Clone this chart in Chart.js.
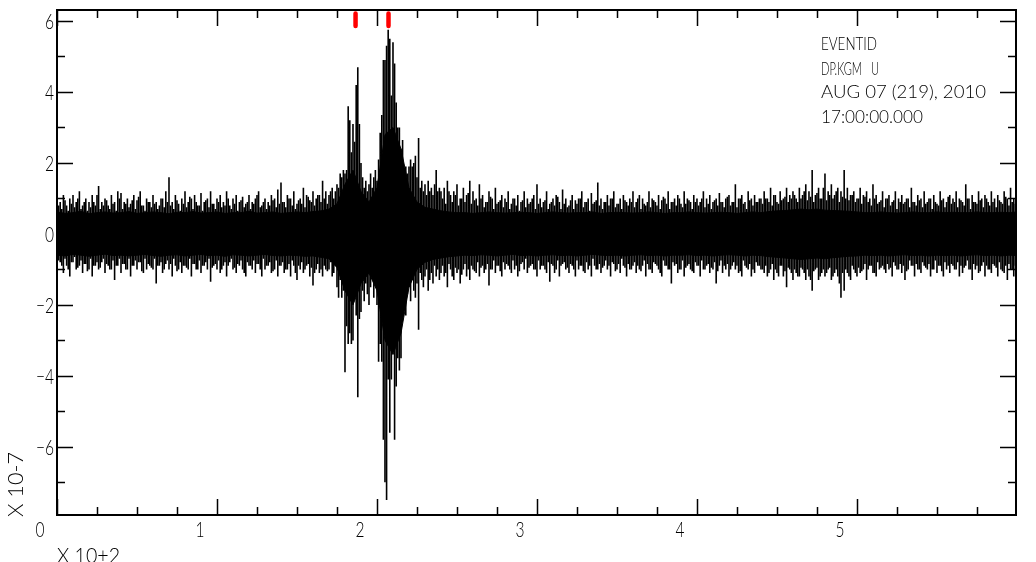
<!DOCTYPE html>
<html>
<head>
<meta charset="utf-8">
<script src="https://cdn.jsdelivr.net/npm/chart.js@4.4.1/dist/chart.umd.min.js"></script>
<style>
  html, body { margin: 0; padding: 0; background: #fff; }
  #wrap { width: 1036px; height: 562px; }
</style>
</head>
<body>
<div id="wrap"><canvas id="chart" width="1036" height="562"></canvas></div>
<script>
/* ---- trace (x in units of 10+2 s, y in units of 10-7) ---- */
const sampleStep = 0.02;
// swing reached around t = k * sampleStep
const peakHi = [
  1.2, 0.9, 1.1, 0.8, 1.0, 1.1, 0.9, 1.2, 0.8, 1.0,
  0.9, 1.1, 0.8, 1.35, 0.9, 1.0, 0.8, 1.1, 0.9, 1.2,
  1.15, 0.9, 1.0, 0.85, 1.1, 0.95, 1.2, 0.8, 1.0, 0.9,
  1.1, 0.9, 0.8, 1.0, 1.2, 1.6, 0.9, 1.1, 0.85, 1.0,
  1.2, 0.9, 1.0, 1.1, 0.8, 1.15, 0.9, 1.0, 1.2, 0.85,
  1.0, 1.1, 0.9, 1.2, 0.8, 1.0, 1.1, 0.9, 1.05, 0.85,
  1.1, 0.9, 1.0, 1.2, 0.8, 1.0, 0.9, 1.1, 1.0, 1.25,
  1.45, 0.9, 1.1, 1.0, 1.2, 0.85, 1.0, 1.3, 1.1, 0.95,
  1.2, 1.0, 1.1, 1.5, 1.2, 1.1, 1.3, 1.2, 1.3, 1.6,
  1.7, 3.6, 2.3, 2.6, 4.7, 2.0, 1.3, 1.2, 1.7, 1.6,
  1.5, 2.85, 4.9, 5.3, 5.5, 5.4, 3.7, 3.0, 2.65, 1.9,
  1.9, 1.9, 2.2, 2.7, 1.5, 1.4, 1.5, 1.3, 1.4, 1.2,
  1.2, 1.3, 1.5, 1.1, 1.2, 1.4, 1.0, 1.3, 1.1, 1.5,
  1.2, 1.0, 1.4, 1.1, 0.9, 1.2, 1.0, 1.3, 0.9, 1.1,
  1.0, 1.2, 0.85, 1.0, 1.1, 0.9, 1.2, 1.0, 0.9, 1.1,
  1.4, 1.0, 0.9, 1.2, 0.85, 1.0, 1.1, 0.9, 1.25, 1.0,
  0.8, 1.1, 0.95, 1.0, 1.2, 0.9, 1.0, 1.15, 0.9, 1.45,
  1.0, 0.9, 1.1, 1.0, 1.2, 0.85, 1.0, 1.1, 0.9, 1.0,
  1.2, 0.9, 1.1, 1.0, 0.8, 1.2, 1.0, 0.9, 1.1, 0.95,
  1.0, 1.2, 0.9, 1.0, 1.1, 0.85, 1.2, 1.0, 0.9, 1.1,
  1.0, 0.9, 1.2, 1.0, 1.1, 0.9, 1.0, 1.15, 0.9, 1.0,
  1.1, 0.9, 1.4, 1.0, 1.1, 0.9, 1.2, 1.0, 1.1, 0.9,
  1.0, 1.2, 1.0, 1.3, 1.1, 0.9, 1.2, 1.0, 1.3, 1.1,
  1.2, 1.0, 1.3, 1.1, 1.4, 1.2, 1.8, 1.1, 1.3, 1.0,
  1.7, 1.2, 1.4, 1.1, 1.3, 1.2, 1.8, 1.3, 1.1, 1.2,
  1.0, 1.3, 1.1, 1.2, 1.0, 1.4, 1.1, 0.9, 1.2, 1.0,
  1.1, 0.9, 1.2, 1.0, 1.1, 0.9, 1.0, 1.3, 0.9, 1.1,
  1.0, 1.2, 0.9, 1.0, 1.1, 0.85, 1.2, 1.0, 0.9, 1.1,
  1.0, 1.2, 1.0, 0.9, 1.4, 1.0, 1.1, 0.9, 1.2, 1.0,
  1.1, 0.9, 1.2, 1.0, 1.1, 0.9, 1.2, 1.0, 1.3, 1.0,
  1.1
];
const peakLo = [
  -1.0, -0.8, -1.1, -0.9, -1.2, -0.8, -1.0, -0.9, -1.1, -0.85,
  -1.0, -1.2, -0.9, -1.0, -0.8, -1.1, -0.9, -1.0, -1.3, -0.9,
  -1.1, -0.85, -1.0, -1.2, -0.9, -1.0, -0.8, -1.1, -1.0, -0.9,
  -1.0, -1.4, -0.9, -1.1, -0.85, -1.0, -1.2, -0.9, -1.0, -1.1,
  -0.9, -1.0, -1.2, -0.85, -1.0, -1.1, -0.9, -1.0, -1.35, -0.9,
  -1.0, -1.1, -0.9, -1.2, -0.8, -1.0, -1.1, -0.9, -1.0, -1.2,
  -0.9, -1.0, -1.1, -0.85, -1.2, -1.0, -0.9, -1.1, -1.0, -1.2,
  -0.9, -1.1, -1.0, -1.2, -0.9, -1.3, -1.0, -1.1, -0.9, -1.2,
  -1.45, -1.0, -1.1, -1.2, -1.0, -1.0, -1.2, -0.9, -1.8, -1.8,
  -3.9, -3.1, -3.1, -1.4, -4.6, -2.2, -1.9, -1.7, -1.5, -1.8,
  -2.0, -3.1, -5.8, -7.5, -5.6, -2.7, -4.3, -3.85, -2.35, -2.3,
  -1.5, -1.3, -1.8, -2.7, -1.3, -1.2, -1.6, -1.1, -0.9, -1.0,
  -1.1, -1.2, -1.5, -1.0, -1.3, -1.1, -1.4, -1.0, -1.2, -1.3,
  -1.0, -1.1, -1.2, -0.9, -1.0, -1.45, -1.0, -1.1, -0.9, -1.2,
  -1.0, -0.9, -1.1, -1.0, -1.2, -0.85, -1.0, -1.1, -0.9, -1.0,
  -1.2, -1.0, -0.9, -1.1, -1.35, -0.9, -1.0, -1.2, -0.85, -1.0,
  -1.1, -0.9, -1.2, -1.0, -0.9, -1.1, -1.0, -1.2, -0.9, -1.0,
  -1.1, -0.9, -1.0, -1.2, -0.85, -1.0, -1.1, -0.9, -1.2, -1.0,
  -0.9, -1.1, -1.0, -0.9, -1.2, -1.0, -1.1, -0.85, -1.0, -1.2,
  -0.9, -1.0, -1.4, -0.9, -1.1, -1.0, -1.2, -0.9, -1.0, -1.1,
  -0.9, -1.2, -1.0, -0.9, -1.1, -1.0, -1.4, -0.9, -1.1, -1.0,
  -1.2, -0.9, -1.0, -1.1, -1.2, -0.9, -1.0, -1.2, -1.1, -0.9,
  -1.0, -1.1, -1.2, -1.0, -1.3, -1.1, -0.9, -1.2, -1.5, -1.0,
  -1.3, -1.1, -1.2, -1.0, -1.3, -1.2, -1.6, -1.0, -1.3, -1.1,
  -1.2, -1.0, -1.3, -1.1, -1.2, -1.8, -1.6, -1.1, -1.3, -1.0,
  -1.2, -1.1, -1.0, -1.3, -0.9, -1.1, -1.2, -1.0, -0.9, -1.1,
  -1.0, -1.2, -0.9, -1.0, -1.1, -1.3, -1.0, -0.9, -1.2, -1.0,
  -1.1, -0.9, -1.0, -1.2, -1.0, -1.1, -0.9, -1.2, -1.0, -1.1,
  -0.9, -1.0, -1.2, -1.1, -0.9, -1.0, -1.3, -1.0, -1.1, -0.9,
  -1.2, -1.0, -1.1, -0.9, -1.2, -1.0, -1.1, -1.3, -1.0, -1.2,
  -1.1
];

// swing reached half a step later, t = midStart + i * sampleStep
const midStart = 0.01;
const midHi = [
  0.8, 0.7, 0.95, 0.65, 0.85, 0.75, 1.0, 0.7, 0.9, 0.65,
  0.75, 0.9, 1.1, 0.7, 0.8, 0.95, 0.7, 0.85, 0.65, 1.0,
  0.7, 0.85, 0.75, 0.95, 0.7, 1.05, 0.8, 0.65, 0.9, 0.75,
  0.85, 0.7, 1.0, 0.75, 0.9, 0.8, 0.7, 0.95, 0.65, 0.85,
  0.75, 1.05, 0.7, 0.9, 0.8, 0.65, 0.95, 0.75, 0.85, 0.7,
  0.9, 0.75, 0.8, 1.0, 0.7, 0.85, 0.65, 0.95, 0.75, 0.9,
  0.7, 0.85, 1.1, 0.75, 0.9, 0.7, 0.8, 0.95, 0.75, 0.85,
  0.9, 0.75, 1.0, 0.8, 0.7, 0.95, 0.85, 0.75, 1.05, 0.9,
  0.8, 1.1, 0.9, 1.0, 0.85, 1.2, 1.0, 1.4, 1.7, 1.8,
  1.8, 3.2, 3.1, 4.2, 3.1, 1.6, 1.5, 1.4, 1.3, 1.8,
  2.1, 3.35, 4.9, 5.75, 3.9, 4.8, 3.0, 2.4, 1.8, 1.7,
  2.1, 2.0, 1.6, 1.3, 1.2, 1.1, 1.2, 1.1, 1.8, 1.3,
  1.0, 0.85, 1.2, 0.9, 1.1, 0.8, 1.0, 0.9, 1.15, 0.85,
  0.95, 0.8, 1.0, 0.75, 0.9, 1.05, 0.7, 0.85, 0.95, 0.75,
  0.9, 0.7, 1.0, 0.8, 0.65, 0.95, 0.75, 0.85, 1.0, 0.7,
  0.85, 0.75, 0.95, 0.7, 0.9, 0.8, 1.05, 0.7, 0.85, 0.75,
  0.95, 0.7, 0.85, 1.0, 0.75, 0.9, 0.65, 0.85, 0.95, 0.8,
  0.7, 0.9, 0.8, 1.0, 0.75, 0.85, 0.7, 0.95, 0.8, 0.9,
  0.75, 1.0, 0.7, 0.85, 0.9, 0.75, 0.95, 0.8, 0.7, 1.05,
  0.85, 0.7, 0.9, 0.8, 1.0, 0.75, 0.85, 0.95, 0.7, 0.9,
  0.8, 1.0, 0.75, 0.85, 0.7, 0.95, 0.8, 0.9, 0.75, 1.05,
  0.8, 0.9, 0.75, 1.0, 0.85, 0.7, 0.95, 0.8, 0.9, 1.0,
  0.85, 1.0, 0.9, 0.8, 1.1, 0.85, 0.95, 1.05, 0.9, 1.0,
  1.1, 0.9, 1.0, 1.2, 0.95, 1.05, 0.9, 1.15, 1.0, 1.3,
  0.95, 1.1, 1.0, 1.2, 0.9, 1.05, 1.0, 0.95, 1.1, 0.9,
  1.0, 0.85, 1.05, 0.9, 0.8, 1.0, 0.85, 0.95, 0.75, 1.0,
  0.8, 0.95, 0.7, 0.9, 0.85, 1.0, 0.75, 0.9, 0.8, 0.95,
  0.75, 0.85, 1.0, 0.7, 0.9, 0.8, 0.95, 0.75, 1.05, 0.85,
  0.9, 0.75, 0.95, 0.8, 1.0, 0.7, 0.9, 0.85, 0.95, 0.75,
  1.0, 0.8, 0.9, 0.75, 0.95, 0.85, 1.05, 0.8, 0.9, 0.85
];
const midLo = [
  -0.75, -0.9, -0.7, -1.0, -0.8, -0.65, -0.95, -0.75, -0.85, -1.05,
  -0.7, -0.9, -0.8, -0.95, -0.7, -0.85, -1.0, -0.75, -0.9, -0.7,
  -0.85, -1.0, -0.7, -0.9, -0.75, -0.8, -1.05, -0.7, -0.85, -0.95,
  -0.7, -0.9, -0.8, -1.0, -0.75, -0.85, -0.7, -1.05, -0.8, -0.9,
  -0.95, -0.7, -0.85, -1.0, -0.75, -0.9, -0.8, -0.7, -0.95, -0.85,
  -0.75, -1.0, -0.8, -0.9, -0.7, -0.95, -0.85, -0.75, -1.1, -0.8,
  -0.9, -0.75, -0.85, -1.0, -0.7, -0.9, -0.8, -1.05, -0.75, -0.9,
  -0.8, -1.0, -0.85, -0.75, -1.1, -0.9, -0.8, -1.0, -0.85, -0.95,
  -1.1, -0.85, -1.0, -0.9, -1.05, -0.8, -1.1, -1.5, -1.3, -1.6,
  -2.6, -2.8, -3.0, -2.3, -2.4, -1.6, -1.4, -2.0, -1.2, -1.4,
  -3.6, -3.6, -7.0, -4.1, -4.1, -5.8, -3.5, -3.5, -2.0, -1.7,
  -1.9, -1.6, -1.4, -1.1, -1.5, -1.0, -1.3, -1.4, -1.2, -1.3,
  -0.9, -1.1, -0.85, -1.2, -0.95, -1.0, -1.15, -0.85, -1.0, -0.9,
  -1.05, -0.8, -0.95, -1.1, -0.85, -1.0, -0.75, -0.9, -1.05, -0.8,
  -0.85, -1.0, -0.75, -0.9, -1.05, -0.8, -0.7, -0.95, -0.85, -1.0,
  -0.75, -0.9, -1.0, -0.8, -0.85, -1.1, -0.75, -0.9, -0.8, -0.95,
  -0.85, -1.0, -0.75, -0.9, -1.05, -0.8, -0.9, -0.7, -1.0, -0.85,
  -0.95, -0.75, -0.9, -0.8, -1.05, -0.85, -0.7, -0.95, -0.85, -1.0,
  -0.8, -0.9, -1.05, -0.75, -0.85, -1.0, -0.8, -0.9, -1.1, -0.75,
  -0.9, -1.0, -0.8, -0.85, -1.0, -0.75, -0.95, -0.85, -1.05, -0.8,
  -0.9, -0.75, -1.0, -0.85, -0.95, -0.8, -1.05, -0.75, -0.9, -0.85,
  -1.0, -0.8, -0.9, -1.05, -0.75, -0.95, -0.85, -1.0, -0.8, -0.9,
  -1.0, -0.9, -1.1, -0.85, -1.0, -1.2, -0.9, -1.05, -0.95, -1.1,
  -1.0, -1.2, -0.95, -1.1, -1.0, -1.3, -1.05, -0.95, -1.2, -1.0,
  -1.1, -0.95, -1.2, -1.0, -1.4, -1.1, -1.0, -1.2, -0.9, -1.1,
  -0.95, -1.05, -0.85, -1.0, -0.9, -1.1, -0.8, -0.95, -1.0, -0.85,
  -0.95, -0.8, -1.0, -0.85, -0.9, -1.05, -0.75, -0.9, -0.85, -1.0,
  -0.8, -0.95, -0.85, -1.0, -0.75, -0.9, -1.05, -0.8, -0.9, -0.85,
  -1.0, -0.8, -0.9, -0.95, -0.75, -1.0, -0.85, -0.9, -1.05, -0.8,
  -0.9, -1.0, -0.85, -0.95, -0.8, -1.05, -0.9, -0.85, -1.0, -0.9
];

// solid part of the trace
const coreStep = 0.05;
const coreHi = [
  0.62, 0.58, 0.6, 0.64, 0.57, 0.6, 0.62, 0.59, 0.6, 0.63,
  0.58, 0.6, 0.62, 0.6, 0.57, 0.61, 0.6, 0.63, 0.59, 0.6,
  0.62, 0.58, 0.6, 0.6, 0.64, 0.59, 0.6, 0.62, 0.58, 0.6,
  0.62, 0.6, 0.63, 0.65, 0.7, 0.85, 1.4, 1.8, 1.2, 0.9,
  1.3, 2.8, 3.0, 2.4, 1.3, 0.9, 0.75, 0.7, 0.65, 0.62,
  0.6, 0.6, 0.58, 0.6, 0.62, 0.6, 0.59, 0.6, 0.61, 0.6,
  0.58, 0.6, 0.62, 0.6, 0.59, 0.6, 0.6, 0.62, 0.58, 0.6,
  0.61, 0.6, 0.59, 0.6, 0.62, 0.6, 0.58, 0.6, 0.6, 0.62,
  0.6, 0.59, 0.6, 0.61, 0.6, 0.58, 0.6, 0.62, 0.6, 0.63,
  0.65, 0.66, 0.68, 0.7, 0.68, 0.7, 0.67, 0.66, 0.65, 0.64,
  0.62, 0.6, 0.6, 0.62, 0.6, 0.59, 0.6, 0.62, 0.6, 0.6,
  0.62, 0.6, 0.61, 0.6, 0.6, 0.62, 0.6, 0.6, 0.61, 0.6,
  0.62
];
const coreLo = [
  -0.6, -0.62, -0.58, -0.6, -0.63, -0.6, -0.57, -0.61, -0.6, -0.62,
  -0.6, -0.58, -0.61, -0.63, -0.6, -0.59, -0.62, -0.6, -0.58, -0.61,
  -0.6, -0.63, -0.59, -0.6, -0.62, -0.6, -0.58, -0.61, -0.62, -0.6,
  -0.61, -0.63, -0.62, -0.66, -0.7, -0.95, -1.6, -2.0, -1.4, -1.1,
  -1.6, -3.0, -3.4, -2.8, -1.5, -1.0, -0.8, -0.72, -0.68, -0.64,
  -0.62, -0.6, -0.61, -0.59, -0.6, -0.62, -0.6, -0.58, -0.61, -0.6,
  -0.62, -0.6, -0.59, -0.61, -0.6, -0.62, -0.6, -0.58, -0.6, -0.61,
  -0.6, -0.62, -0.6, -0.59, -0.61, -0.6, -0.62, -0.6, -0.6, -0.59,
  -0.61, -0.6, -0.62, -0.6, -0.59, -0.6, -0.62, -0.6, -0.61, -0.64,
  -0.66, -0.68, -0.7, -0.72, -0.7, -0.68, -0.7, -0.67, -0.65, -0.63,
  -0.62, -0.6, -0.61, -0.6, -0.62, -0.6, -0.59, -0.61, -0.6, -0.62,
  -0.6, -0.61, -0.6, -0.62, -0.6, -0.59, -0.61, -0.6, -0.62, -0.6,
  -0.61
];

const pickTimes = [1.866, 2.072];
const xTickLabels = [0, 1, 2, 3, 4, 5];
const yTickLabels = [-6, -4, -2, 0, 2, 4, 6];
const headerLines = ['EVENTID', 'DP.KGM   U', 'AUG 07 (219), 2010', '17:00:00.000'];
const yUnitLabel = 'X 10-7';
const xUnitLabel = 'X 10+2';

const FONT = "Lato, 'Liberation Sans', sans-serif";
const SQUEEZE = 0.74;

function strokes(start, step, hi, lo) {
  const pts = [];
  hi.forEach((h, i) => {
    const t = +(start + i * step).toFixed(4);
    pts.push({ x: t, y: h }, { x: t, y: lo[i] }, { x: t, y: null });
  });
  return pts;
}
function band(step, vals) {
  return vals.map((v, i) => ({ x: +(i * step).toFixed(4), y: v }));
}
function pickMarks(times) {
  const pts = [];
  times.forEach(t => pts.push({ x: t, y: 6.21 }, { x: t, y: 5.86 }, { x: t, y: null }));
  return pts;
}

// thin, narrow text; opts.width = target width, else the common squeeze
function drawText(ctx, str, x, y, size, opts = {}) {
  ctx.save();
  ctx.font = '300 ' + size + 'px ' + FONT;
  const m = ctx.measureText(str).width;
  const sx = opts.width ? opts.width / m : SQUEEZE;
  const w = m * sx;
  let x0 = x;
  if (opts.align === 'right') x0 = x - w;
  if (opts.align === 'center') x0 = x - w / 2;
  ctx.translate(opts.rotate ? x : x0, y);
  if (opts.rotate) ctx.rotate(opts.rotate);
  ctx.scale(sx, 1);
  ctx.textBaseline = 'alphabetic';
  ctx.textAlign = 'left';
  ctx.fillStyle = '#000';
  ctx.fillText(str, 0, 0);
  ctx.restore();
}
const fmt = v => v < 0 ? '\u2212' + Math.abs(v) : String(v);

const frameAndTicks = {
  id: 'frameAndTicks',
  afterDraw(chart) {
    const { ctx, chartArea: a, scales: { x, y } } = chart;
    ctx.save();
    ctx.strokeStyle = '#000';
    ctx.lineWidth = 1.5;
    ctx.beginPath();
    for (let v = 0; v <= x.max + 1e-6; v += 0.25) {
      const px = Math.round(x.getPixelForValue(v)) + 0.5;
      const len = Math.abs(v - Math.round(v)) < 1e-6 ? 16 : 8;
      ctx.moveTo(px, a.bottom); ctx.lineTo(px, a.bottom - len);
      ctx.moveTo(px, a.top); ctx.lineTo(px, a.top + len);
    }
    for (let v = Math.ceil(y.min); v <= y.max; v += 1) {
      const py = Math.round(y.getPixelForValue(v)) + 0.5;
      const len = v % 2 === 0 ? 16 : 8;
      ctx.moveTo(a.left, py); ctx.lineTo(a.left + len, py);
      ctx.moveTo(a.right, py); ctx.lineTo(a.right - len, py);
    }
    ctx.stroke();
    ctx.lineWidth = 2;
    ctx.strokeRect(a.left, a.top, a.right - a.left, a.bottom - a.top);
    ctx.restore();

    // tick labels, placed with the chart's own scales
    xTickLabels.forEach(v => drawText(ctx, fmt(v), x.getPixelForValue(v) - 17, 537, 21, { align: 'center' }));
    yTickLabels.forEach(v => drawText(ctx, fmt(v), 54, y.getPixelForValue(v) + 8, 21, { align: 'right' }));

    const lineY = [50, 74.5, 98, 122.5];
    const lineW = [56, 58, 165, 102];
    headerLines.forEach((s, i) => drawText(ctx, s, 821, lineY[i], 18, { width: lineW[i] }));
    drawText(ctx, yUnitLabel, 23, 517, 21, { width: 65, rotate: -Math.PI / 2 });
    drawText(ctx, xUnitLabel, 57, 563, 21, { width: 63 });
  }
};

new Chart(document.getElementById('chart'), {
  type: 'line',
  data: {
    datasets: [
      { data: pickMarks(pickTimes), borderColor: '#ff0000', borderWidth: 4.5, borderCapStyle: 'round', pointRadius: 0, order: 0 },
      { data: strokes(0, sampleStep, peakHi, peakLo), borderColor: '#000', borderWidth: 1.6, pointRadius: 0, order: 1 },
      { data: strokes(midStart, sampleStep, midHi, midLo), borderColor: '#000', borderWidth: 1.6, pointRadius: 0, order: 1 },
      { data: band(coreStep, coreHi), borderColor: '#000', borderWidth: 1, backgroundColor: '#000', fill: '+1', pointRadius: 0, order: 2 },
      { data: band(coreStep, coreLo), borderColor: '#000', borderWidth: 1, pointRadius: 0, order: 2 }
    ]
  },
  options: {
    responsive: false,
    devicePixelRatio: 1,
    animation: false,
    spanGaps: false,
    layout: { padding: { left: 0, right: 20, top: 10, bottom: 0 } },
    plugins: { legend: { display: false }, tooltip: { enabled: false } },
    scales: {
      x: {
        type: 'linear', min: 0, max: 5.994,
        grid: { display: false, drawTicks: false },
        border: { display: false },
        afterFit: s => { s.height = 47; },
        afterBuildTicks: s => { s.ticks = xTickLabels.map(v => ({ value: v })); },
        ticks: { display: false }
      },
      y: {
        type: 'linear', min: -7.92, max: 6.31,
        grid: { display: false, drawTicks: false },
        border: { display: false },
        afterFit: s => { s.width = 57; },
        afterBuildTicks: s => { s.ticks = yTickLabels.map(v => ({ value: v })); },
        ticks: { display: false }
      }
    }
  },
  plugins: [frameAndTicks]
});
</script>
</body>
</html>
